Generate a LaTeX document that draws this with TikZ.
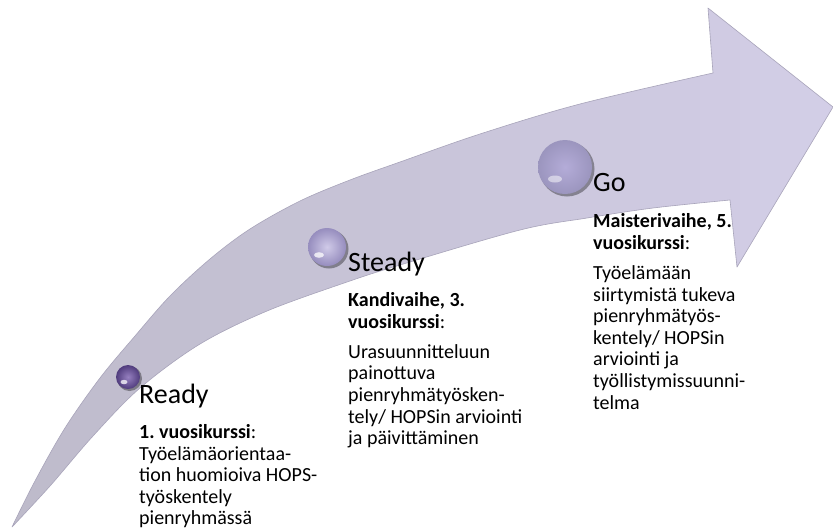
\documentclass[tikz,border=0pt]{standalone}
\usepackage{fontspec}
\setmainfont{Carlito}
\frenchspacing
\definecolor{bandL}{RGB}{190,187,203}
\definecolor{bandR}{RGB}{211,206,231}
\definecolor{bandE}{RGB}{168,164,186}
\definecolor{rdIn}{RGB}{150,128,192}
\definecolor{rdOut}{RGB}{80,60,125}
\definecolor{stIn}{RGB}{208,202,232}
\definecolor{stOut}{RGB}{150,141,190}
\definecolor{goIn}{RGB}{180,172,216}
\definecolor{goOut}{RGB}{155,149,190}
\newcommand\arrowoutline{(12,527) -- plot[smooth, tension=0.55] coordinates {(12,527) (35,481) (65,428) (100,378) (135,336) (170,296) (210,259) (250,229) (300,201) (350,180) (400,162) (480,134) (580,104) (713,73)}
  -- (708,8) -- (833,107) -- (737,267) -- (730,200)
  -- plot[smooth, tension=0.55] coordinates {(730,200) (653,208) (587,218) (520,230) (400,265) (347,282) (267,311) (200,344) (140,388) (93,436) (50,486) (12,527)}
  -- cycle}
\tikzset{
  headtxt/.style={anchor=base west, inner sep=0pt, font=\fontsize{28}{30}\selectfont},
  bodytxt/.style={anchor=base west, inner sep=0pt, align=left, font=\fontsize{20}{21.6}\selectfont},
  sphere/.style={circle, inner sep=0pt, minimum size=#1, shade},
  glint/.style={white, opacity=0.75},
  shadowdisc/.style={black, opacity=0.35}
}
\begin{document}
\begin{tikzpicture}[x=1pt, y=-1pt]
\useasboundingbox (0,0) rectangle (833,531);
\fill[white] (0,0) rectangle (833,531);
% the curved arrow: a left-to-right colour ramp clipped to the outline
\begin{scope}
  \clip \arrowoutline;
  \foreach \i in {0,...,41} {
    \pgfmathtruncatemacro\pc{\i*100/41}
    \fill[bandR!\pc!bandL] (\i*20,0) rectangle (\i*20+21,531);
  }
\end{scope}
\draw[bandE, line width=0.6pt, line join=round] \arrowoutline;
% spheres
\fill[shadowdisc] (129.5,378.5) circle (12.5);
\node[sphere=24pt, inner color=rdIn, outer color=rdOut] (rb) at (128,377) {};
\fill[glint] ([shift={(-4,5)}]rb.center) ellipse (3.5 and 2.2);
\fill[shadowdisc] (329,249) circle (19.5);
\node[sphere=38pt, inner color=stIn, outer color=stOut] (sb) at (327,247) {};
\fill[glint] ([shift={(-8,8)}]sb.center) ellipse (5 and 2.8);
\fill[shadowdisc] (567,169) circle (27.5);
\node[sphere=54pt, inner color=goIn, outer color=goOut] (gb) at (565,167) {};
\fill[glint, opacity=0.5] ([shift={(-10,12)}]gb.center) ellipse (7 and 3.5);
% labels (multi-line nodes are anchored at the baseline of their last line)
\node[headtxt] (rh) at (139,403) {Ready};
\node[bodytxt] (rt) at (139,524.9) {\textbf{1. vuosikurssi}:\\Työelämäorientaa-\\tion huomioiva HOPS-\\työskentely\\pienryhmässä};
\node[headtxt] (sh) at (348,271) {Steady};
\node[bodytxt] (st) at (348,444.6) {\textbf{Kandivaihe, 3.}\\\textbf{vuosikurssi}:\\[8.5pt]Urasuunnitteluun\\painottuva\\pienryhmätyösken-\\tely/ HOPSin arviointi\\ja päivittäminen};
\node[headtxt] (gh) at (593,191) {Go};
\node[bodytxt] (gt) at (593,409) {\textbf{Maisterivaihe, 5.}\\\textbf{vuosikurssi}:\\[8.5pt]Työelämään\\siirtymistä tukeva\\pienryhmätyös-\\kentely/ HOPSin\\arviointi ja\\työllistymissuunni-\\telma};
\end{tikzpicture}
\end{document}
